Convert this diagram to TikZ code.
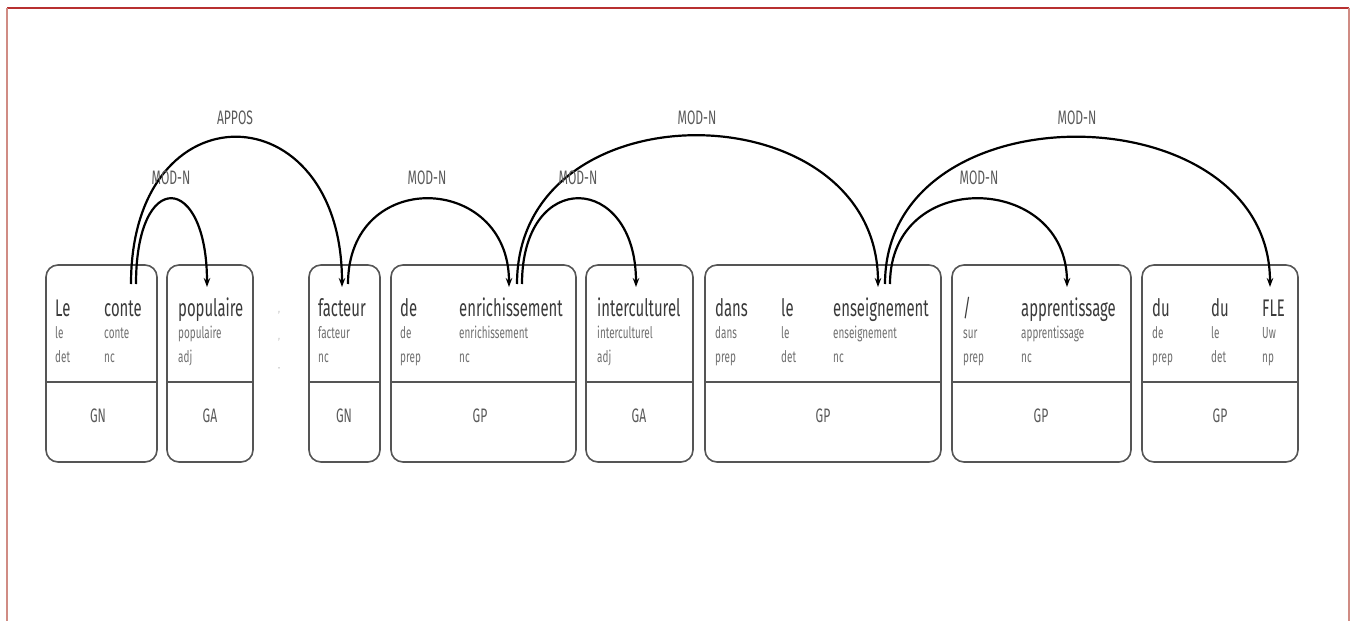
\documentclass[tikz,border=0pt]{standalone}
\usepackage{fontspec}
\setmainfont{Fira Sans}[FakeStretch=0.62]
\usetikzlibrary{arrows.meta}
\definecolor{boxgray}{HTML}{555555}
\definecolor{wordcol}{HTML}{3A3A3A}
\definecolor{lemcol}{HTML}{707070}
\definecolor{labcol}{HTML}{5A5A5A}
\definecolor{frametop}{HTML}{B83030}
\definecolor{frameside}{HTML}{D08C84}
\tikzset{
  chunk/.style={draw=boxgray, line width=1.6pt, rounded corners=12pt, fill=none},
  divider/.style={draw=boxgray, line width=2.2pt},
  word/.style={anchor=base west, inner sep=0pt, font=\fontsize{24}{24}\selectfont, text=wordcol},
  lem/.style={anchor=base west, inner sep=0pt, font=\fontsize{16}{16}\selectfont, text=lemcol},
  plab/.style={anchor=center, inner sep=0pt, font=\fontsize{19.5}{19.5}\selectfont, text=labcol},
  rel/.style={anchor=center, inner sep=0pt, font=\fontsize{19.5}{19.5}\selectfont, text=labcol},
  punct/.style={anchor=center, inner sep=0pt, font=\fontsize{10}{10}\selectfont, text=lemcol!60},
  dep/.style={-{Stealth[length=9pt,width=6.5pt]}, line width=2.2pt, draw=black}
}
\begin{document}
\begin{tikzpicture}[x=1pt,y=-1pt]
\useasboundingbox (0,0) rectangle (1352,621);
\fill[white] (0,0) rectangle (1352,621);
% frame
\draw[frametop, line width=2pt] (7,8) -- (1349,8);
\draw[frameside, line width=1.6pt] (7,8) -- (7,621);
\draw[frameside, line width=1.6pt] (1349,8) -- (1349,621);

% chunk boxes
\foreach \n/\a/\b in {b1/46/157, b2/167/253, b3/309/380, b4/391/576, b5/586/693, b6/705/941, b7/952/1131, b8/1142/1298}{
  \draw[chunk] (\a,265) rectangle (\b,462);
  \draw[divider] (\a,382) -- (\b,382);
}

% words, lemmas, pos
\node[word] (w1) at (55,316) {Le};
\node[lem] (l1) at (55,338) {le};
\node[lem] (p1) at (55,362) {det};
\node[word] (w2) at (104,316) {conte};
\node[lem] (l2) at (104,338) {conte};
\node[lem] (p2) at (104,362) {nc};
\node[word] (w3) at (178,316) {populaire};
\node[lem] (l3) at (178,338) {populaire};
\node[lem] (p3) at (178,362) {adj};
\node[punct] (w4) at (279,313) {,};
\node[punct] (l4) at (279,340) {,};
\node[punct] (p4) at (279,370) {-};
\node[word] (w5) at (318,316) {facteur};
\node[lem] (l5) at (318,338) {facteur};
\node[lem] (p5) at (318,362) {nc};
\node[word] (w6) at (400,316) {de};
\node[lem] (l6) at (400,338) {de};
\node[lem] (p6) at (400,362) {prep};
\node[word] (w7) at (459,316) {enrichissement};
\node[lem] (l7) at (459,338) {enrichissement};
\node[lem] (p7) at (459,362) {nc};
\node[word] (w8) at (597,316) {interculturel};
\node[lem] (l8) at (597,338) {interculturel};
\node[lem] (p8) at (597,362) {adj};
\node[word] (w9) at (715,316) {dans};
\node[lem] (l9) at (715,338) {dans};
\node[lem] (p9) at (715,362) {prep};
\node[word] (w10) at (781,316) {le};
\node[lem] (l10) at (781,338) {le};
\node[lem] (p10) at (781,362) {det};
\node[word] (w11) at (833,316) {enseignement};
\node[lem] (l11) at (833,338) {enseignement};
\node[lem] (p11) at (833,362) {nc};
\node[word] (w12) at (963,316) {/};
\node[lem] (l12) at (963,338) {sur};
\node[lem] (p12) at (963,362) {prep};
\node[word] (w13) at (1021,316) {apprentissage};
\node[lem] (l13) at (1021,338) {apprentissage};
\node[lem] (p13) at (1021,362) {nc};
\node[word] (w14) at (1152,316) {du};
\node[lem] (l14) at (1152,338) {de};
\node[lem] (p14) at (1152,362) {prep};
\node[word] (w15) at (1211,316) {du};
\node[lem] (l15) at (1211,338) {le};
\node[lem] (p15) at (1211,362) {det};
\node[word] (w16) at (1262,316) {FLE};
\node[lem] (l16) at (1262,338) {Uw};
\node[lem] (p16) at (1262,362) {np};

% chunk labels
\node[plab] (c1) at (98,416) {GN};
\node[plab] (c2) at (210,416) {GA};
\node[plab] (c3) at (344,416) {GN};
\node[plab] (c4) at (480,416) {GP};
\node[plab] (c5) at (639,416) {GA};
\node[plab] (c6) at (823,416) {GP};
\node[plab] (c7) at (1041,416) {GP};
\node[plab] (c8) at (1220,416) {GP};

% arc end points
\coordinate (conteOut) at (131,284);
\coordinate (conteIn) at (136,284);
\coordinate (popIn) at (207,287);
\coordinate (factIn) at (342,287);
\coordinate (factOut) at (348,284);
\coordinate (enrIn) at (509,287);
\coordinate (enrOutA) at (517,284);
\coordinate (enrOutB) at (522,284);
\coordinate (interIn) at (636,287);
\coordinate (ensIn) at (878,287);
\coordinate (ensOutA) at (885,284);
\coordinate (ensOutB) at (890,284);
\coordinate (appIn) at (1067,287);
\coordinate (fleIn) at (1270,287);

% dependencies
\draw[dep] (conteOut) .. controls +(0,-199) and +(0,-196) .. (factIn);
\draw[dep] (conteIn) .. controls +(0,-117) and +(0,-114) .. (popIn);
\draw[dep] (factOut) .. controls +(0,-117) and +(0,-114) .. (enrIn);
\draw[dep] (enrOutA) .. controls +(0,-201) and +(0,-198) .. (ensIn);
\draw[dep] (enrOutB) .. controls +(0,-117) and +(0,-114) .. (interIn);
\draw[dep] (ensOutA) .. controls +(0,-199) and +(0,-196) .. (fleIn);
\draw[dep] (ensOutB) .. controls +(0,-117) and +(0,-114) .. (appIn);

% relation labels
\node[rel] (r1) at (235,118) {APPOS};
\node[rel] (r2) at (171,178) {MOD-N};
\node[rel] (r3) at (427,178) {MOD-N};
\node[rel] (r4) at (578,178) {MOD-N};
\node[rel] (r5) at (697,118) {MOD-N};
\node[rel] (r6) at (979,178) {MOD-N};
\node[rel] (r7) at (1077,118) {MOD-N};
\end{tikzpicture}
\end{document}
